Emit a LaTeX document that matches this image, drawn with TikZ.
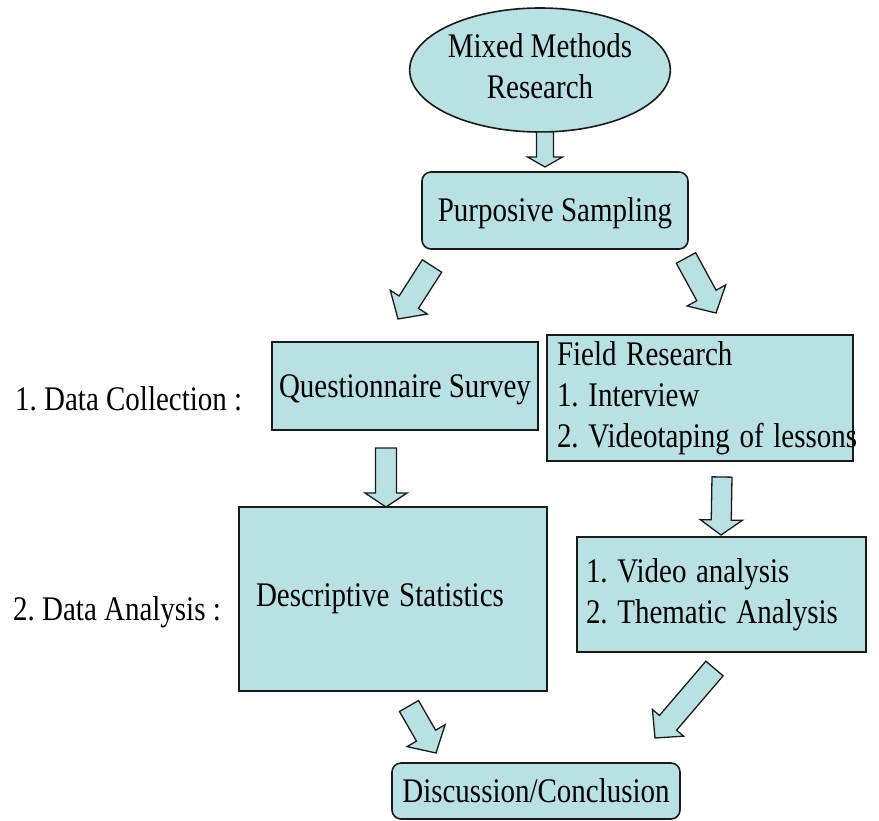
\documentclass[tikz,border=0pt]{standalone}
\usepackage{fontspec}
\setmainfont{Liberation Serif}
\usepackage{graphicx}
\usetikzlibrary{calc,shapes.geometric}
\definecolor{boxfill}{HTML}{B9E0E3}
\definecolor{edgecol}{HTML}{1A1A1A}
\frenchspacing
\newcommand\sx[1]{\scalebox{0.84}[1]{#1}}
% block arrow: #1 name, #2 tail, #3 tip, #4 shaft half width, #5 head half width, #6 head length
\newcommand\blockarr[6]{%
  \coordinate (#1-h) at ($(#3)!#6!(#2)$);
  \draw[arrowbody] ($(#2)!#4!90:(#3)$) -- ($(#1-h)!#4!90:(#3)$) -- ($(#1-h)!#5!90:(#3)$) -- (#3)
    -- ($(#1-h)!#5!-90:(#3)$) -- ($(#1-h)!#4!-90:(#3)$) -- ($(#2)!#4!-90:(#3)$) -- cycle;}
\tikzset{
  basebox/.style={draw=edgecol, fill=boxfill, line width=1.6pt, inner sep=0pt,
    font=\fontsize{34.5}{41}\selectfont\frenchspacing},
  sqbox/.style={basebox, rectangle},
  rbox/.style={basebox, rectangle, rounded corners=9pt},
  oval/.style={basebox, ellipse},
  txt/.style={inner sep=0pt, font=\fontsize{34.5}{41}\selectfont\frenchspacing},
  arrowbody/.style={draw=edgecol, fill=boxfill, line width=1.3pt, line join=miter},
}
\begin{document}
\begin{tikzpicture}[x=1pt,y=-1pt]
\useasboundingbox (0,0) rectangle (879,821);

% boxes
\node[oval, minimum width=236pt, minimum height=124pt] (mmr) at (540,70)
  {\sx{\begin{tabular}{@{}c@{}}Mixed Methods\\Research\end{tabular}}};
\node[rbox, minimum width=266pt, minimum height=77pt, text height=23pt, text depth=0pt] (ps) at (555,210.5)
  {\sx{Purposive Sampling}};
\node[sqbox, minimum width=266pt, minimum height=88pt, text height=23pt, text depth=-4pt] (qs) at (405,386)
  {\sx{Questionnaire Survey}};
\node[sqbox, minimum height=126pt, text width=286pt, inner xsep=10pt, align=left] (fr) at (700,398)
  {\sx{\begin{tabular}[t]{@{}l@{}}Field Research\\1. Interview\\2. Videotaping of lessons\end{tabular}}};
\node[sqbox, minimum height=184pt, text width=274pt, inner xsep=17pt, align=left] (ds) at (393,599)
  {\sx{Descriptive Statistics}};
\node[sqbox, minimum height=115pt, text width=271pt, inner xsep=9pt, align=left] (va) at (721.5,594.5)
  {\sx{\begin{tabular}[t]{@{}l@{}}1. Video analysis\\2. Thematic Analysis\end{tabular}}};
\node[rbox, minimum width=288pt, minimum height=56pt, text height=23pt, text depth=0pt] (dcn) at (536,791)
  {\sx{Discussion/Conclusion}};

% side labels
\node[txt, anchor=base west] (lcol) at (15,410) {\sx{1. Data Collection :}};
\node[txt, anchor=base west] (lana) at (13,620) {\sx{2. Data Analysis :}};

% arrow end points
\coordinate (a1t) at (545,132);   \coordinate (a1e) at (545,167);
\coordinate (a2t) at (432,266);   \coordinate (a2e) at (398,319);
\coordinate (a3t) at (686,258);   \coordinate (a3e) at (716,313);
\coordinate (a4t) at (386,448);   \coordinate (a4e) at (386,507);
\coordinate (a5t) at (722,477);   \coordinate (a5e) at (721,535);
\coordinate (a6t) at (409,706);   \coordinate (a6e) at (436,753);
\coordinate (a7t) at (714.5,668.5); \coordinate (a7e) at (655,738);

\blockarr{a1}{a1t}{a1e}{8.5pt}{17.5pt}{10pt}
\blockarr{a2}{a2t}{a2e}{11.5pt}{22pt}{20pt}
\blockarr{a3}{a3t}{a3e}{11pt}{22pt}{20pt}
\blockarr{a4}{a4t}{a4e}{10.5pt}{21pt}{14pt}
\blockarr{a5}{a5t}{a5e}{10pt}{21pt}{15pt}
\blockarr{a6}{a6t}{a6e}{11pt}{22pt}{20pt}
\blockarr{a7}{a7t}{a7e}{11.3pt}{20.5pt}{20pt}
\end{tikzpicture}
\end{document}
